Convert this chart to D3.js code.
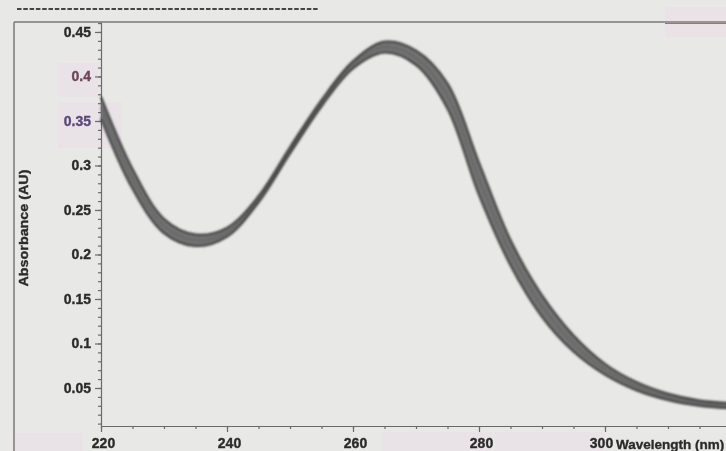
<!DOCTYPE html>
<html>
<head>
<meta charset="utf-8">
<script src="https://cdn.jsdelivr.net/npm/d3@7"></script>
<style>
  html, body { margin: 0; padding: 0; background: #e8e8e6; }
  svg { display: block; }
  .tick text { font-family: "Liberation Sans", Arial, sans-serif; font-weight: bold; font-size: 14px; fill: #2c2c2c; stroke: #2c2c2c; stroke-width: 0.35; }
  .axis path, .axis line { stroke: #6a6a6a; stroke-width: 1.2; }
  .title { font-family: "Liberation Sans", Arial, sans-serif; font-weight: bold; fill: #2c2c2c; stroke: #2c2c2c; stroke-width: 0.35; }
</style>
</head>
<body>
<script>
// absorbance spectra (overlaid runs) - band
var wavelengths = [220,225,230,235,240,245,250,255,260,265,270,275,280,285,290,295,300,305,310,315,320];
var absMid   = [0.365,0.285,0.232,0.216,0.225,0.262,0.317,0.370,0.413,0.433,0.421,0.378,0.285,0.202,0.142,0.100,0.071,0.052,0.040,0.033,0.030];
var absUpper = [0.377,0.296,0.240,0.2225,0.230,0.2655,0.3205,0.3735,0.417,0.439,0.429,0.392,0.303,0.216,0.154,0.109,0.077,0.0565,0.0435,0.036,0.033];
var absLower = [0.353,0.274,0.224,0.2095,0.220,0.2585,0.3135,0.3665,0.409,0.427,0.413,0.364,0.267,0.188,0.130,0.091,0.065,0.0475,0.0365,0.030,0.027];

var xTicks = [220,240,260,280,300];
var yTicks = [0.05,0.1,0.15,0.2,0.25,0.3,0.35,0.4,0.45];

var W = 726, H = 451;
var svg = d3.select("body").append("svg").attr("width", W).attr("height", H);

var defs = svg.append("defs");
defs.append("filter").attr("id","soft")
  .attr("filterUnits","userSpaceOnUse").attr("x",0).attr("y",0).attr("width",W).attr("height",H)
  .append("feGaussianBlur").attr("stdDeviation", 0.6);
defs.append("filter").attr("id","softer")
  .attr("filterUnits","userSpaceOnUse").attr("x",0).attr("y",0).attr("width",W).attr("height",H)
  .append("feGaussianBlur").attr("stdDeviation", 0.9);

// scan patches
var patches = [[58,63,40,34],[58,102,64,46],[13,433,70,18],[382,432,110,19],[495,432,110,19],[665,7,61,30]];
svg.selectAll("rect.patch").data(patches).enter().append("rect").attr("class","patch")
  .attr("x",d=>d[0]).attr("y",d=>d[1]).attr("width",d=>d[2]).attr("height",d=>d[3])
  .attr("fill","#e9e2e7");

var x = d3.scaleLinear().domain([220, 320]).range([101, 731]);
var y = d3.scaleLinear().domain([0.0073, 0.4612]).range([426, 22]);

// outer frame + dashed header rule
var frame = svg.append("g").attr("filter","url(#soft)");
frame.append("line").attr("x1",14).attr("x2",W).attr("y1",22).attr("y2",22)
  .attr("stroke","#7a7a7a").attr("stroke-width",1.5);
frame.append("line").attr("x1",665).attr("x2",W).attr("y1",23.5).attr("y2",23.5)
  .attr("stroke","#a0786a").attr("stroke-width",1.2);
frame.append("line").attr("x1",14).attr("x2",14).attr("y1",22).attr("y2",H)
  .attr("stroke","#7a7a7a").attr("stroke-width",1.5);
frame.append("line").attr("x1",17).attr("x2",318).attr("y1",9).attr("y2",9)
  .attr("stroke","#444").attr("stroke-width",2).attr("stroke-dasharray","4.5,1.8");

var g = svg.append("g").attr("filter","url(#soft)");

// minor ticks
g.append("g").attr("class","axis").attr("transform","translate(101,0)")
  .call(d3.axisLeft(y).tickValues(d3.range(0.01,0.461,0.01)).tickSize(3).tickFormat(""))
  .select(".domain").remove();
g.append("g").attr("class","axis").attr("transform","translate(0,426)")
  .call(d3.axisBottom(x).tickValues(d3.range(220,321,5)).tickSize(3).tickFormat(""))
  .select(".domain").remove();

// main axes
var yAx = g.append("g").attr("class","axis").attr("transform","translate(101,0)")
  .call(d3.axisLeft(y).tickValues(yTicks).tickSize(6).tickPadding(4).tickSizeOuter(0)
    .tickFormat(d=>d3.format("")(+d.toFixed(2))));
yAx.selectAll(".tick text")
  .style("fill", d=>(Math.abs(d-0.4)<1e-9 ? "#6e4656" : Math.abs(d-0.35)<1e-9 ? "#5a4a78" : null))
  .style("stroke", d=>(Math.abs(d-0.4)<1e-9 ? "#6e4656" : Math.abs(d-0.35)<1e-9 ? "#5a4a78" : null));
var xAx = g.append("g").attr("class","axis").attr("transform","translate(0,426)")
  .call(d3.axisBottom(x).tickValues(xTicks).tickSize(6).tickPadding(6).tickSizeOuter(0));
xAx.selectAll(".tick text").attr("dx", d=>(d===300 ? -4 : 2));

// band of spectra
var rows = wavelengths.map((w,i)=>({w:w, mid:absMid[i], up:absUpper[i], lo:absLower[i]}));
var curve = d3.curveCatmullRom.alpha(0.5);
var band = svg.append("g").attr("filter","url(#softer)");
band.append("path").datum(rows)
  .attr("d", d3.area().x(d=>x(d.w)).y0(d=>y(d.lo)).y1(d=>y(d.up)).curve(curve))
  .attr("fill","#727272");
["up","lo"].forEach(k=>{
  band.append("path").datum(rows)
    .attr("d", d3.line().x(d=>x(d.w)).y(d=>y(d[k])).curve(curve))
    .attr("fill","none").attr("stroke","#353535").attr("stroke-width",2);
});
band.append("path").datum(rows)
  .attr("d", d3.line().x(d=>x(d.w)).y(d=>y(d.mid)).curve(curve))
  .attr("fill","none").attr("stroke","#4a4a4a").attr("stroke-width",1.3).attr("stroke-dasharray","1.5,2");

// titles
g.append("text").attr("class","title")
  .attr("transform","translate(23,228) rotate(-90)")
  .attr("text-anchor","middle").attr("dy","0.35em")
  .attr("font-size",13).attr("textLength",117).attr("lengthAdjust","spacingAndGlyphs")
  .text("Absorbance (AU)");
g.append("text").attr("class","title")
  .attr("x",616).attr("y",449).attr("font-size",13.5)
  .text("Wavelength (nm)");
</script>
</body>
</html>
